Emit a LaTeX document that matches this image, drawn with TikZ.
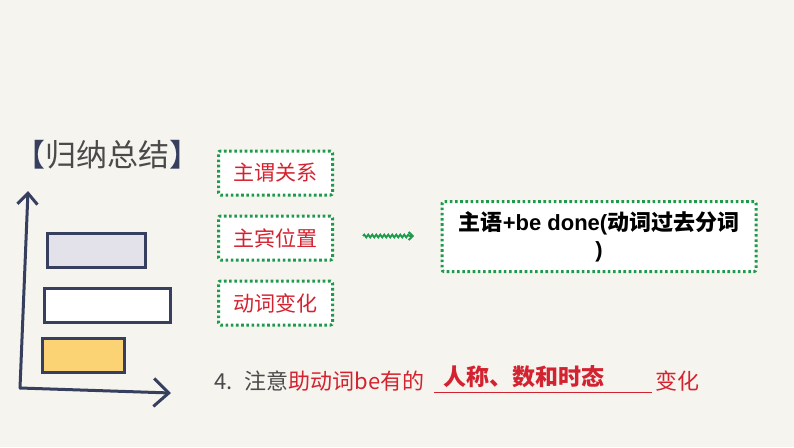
\documentclass[tikz,border=0pt]{standalone}
\usepackage{fontspec}
\setmainfont{Liberation Sans}
\newfontfamily\cjk{Noto Sans CJK SC}
\newfontfamily\latinbold{Liberation Sans}
\usetikzlibrary{positioning,decorations.pathmorphing,arrows.meta}
\definecolor{paper}{HTML}{F6F4EF}
\definecolor{navy}{HTML}{36405E}
\definecolor{inkgray}{HTML}{4A4A4A}
\definecolor{tipred}{HTML}{D42330}
\definecolor{dotgreen}{HTML}{1E9A4C}
\definecolor{barlilac}{HTML}{E3E2EA}
\definecolor{baryellow}{HTML}{FBD374}
\tikzset{
    dotbox/.style={draw=dotgreen,line width=3pt,dash pattern=on 2.6pt off 2.6pt,
        fill=white,rounded corners=2pt},
    smallbox/.style={dotbox,minimum width=114pt,minimum height=44pt,text=tipred,
        font=\cjk\fontsize{21}{21}\selectfont},
    bar/.style={draw=navy,line width=3pt},
    axis/.style={draw=navy,line width=3pt,line cap=round},
}
\begin{document}
\begin{tikzpicture}[x=1pt,y=-1pt,font=\cjk]
    \useasboundingbox[fill=paper] (0,0) rectangle (794,447);
    %% Title
    \node[anchor=west,inner sep=0pt,font=\cjk\fontsize{31}{31}\selectfont,text=inkgray]
        (title) at (14,155) {\textcolor{navy}{【}归纳总结\textcolor{navy}{】}};
    %% Axes
    \coordinate (O)  at (20,388);
    \coordinate (Yt) at (28,191);
    \coordinate (Xt) at (171,393);
    \draw[axis,-{Straight Barb[length=11pt,width=20pt]}] (O) -- (Yt);
    \draw[axis,-{Straight Barb[length=15pt,width=28pt]}] (O) -- (Xt);
    %% Bars
    \draw[bar,fill=barlilac]  (47,233) rectangle (145,267);
    \draw[bar,fill=white]     (44,288) rectangle (170,322);
    \draw[bar,fill=baryellow] (42,338) rectangle (124,372);
    %% Small boxes
    \node[smallbox] (subj) at (275.5,173) {主谓关系};
    \node[smallbox,below=18pt of subj] (obj) {主宾位置};
    \node[smallbox,below=18pt of obj] (verb) {动词变化};
    %% Result box
    \node[dotbox,minimum width=314pt,minimum height=70pt,align=center,
        font=\cjk\bfseries\fontsize{22}{27}\selectfont] (rule) at (599,236.5)
        {主语{\latinbold\bfseries +be done(}动词过去分词\\{\latinbold\bfseries )}};
    \coordinate (snk) at (363,236);
    \coordinate (snkend) at (414,236);
    \draw[dotgreen,line width=1.8pt,-{Straight Barb[length=4pt,width=8pt]},
        decorate,decoration={snake,amplitude=1.4pt,segment length=4pt,post length=3pt}]
        (snk) -- (snkend);
    %% Bottom line
    \node[anchor=base west,inner sep=0pt,font=\cjk\fontsize{22}{22}\selectfont,text=inkgray]
        (note) at (214,389) {4.\hspace{12pt}注意\textcolor{tipred}{助动词be有的}};
    \coordinate (blankA) at (434,392);
    \coordinate (blankB) at (652,392);
    \draw[tipred,line width=0.8pt] (blankA) -- (blankB);
    \node[anchor=base west,inner sep=0pt,text=tipred,font=\cjk\bfseries\fontsize{23}{23}\selectfont]
        (answer) at (443,385) {人称、数和时态};
    \node[anchor=base west,inner sep=0pt,text=tipred,font=\cjk\fontsize{22}{22}\selectfont]
        (change) at (655,389) {变化};
\end{tikzpicture}
\end{document}
